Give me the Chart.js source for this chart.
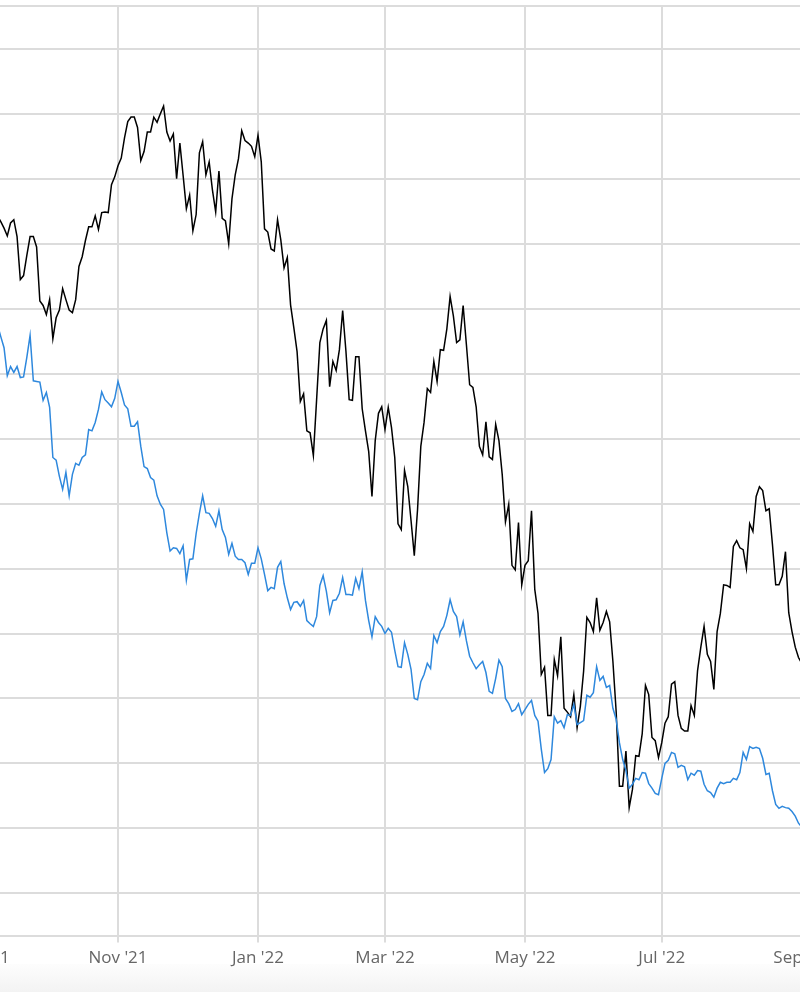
<!DOCTYPE html>
<html>
<head>
<meta charset="utf-8">
<script src="https://cdn.jsdelivr.net/npm/chart.js@4/dist/chart.umd.min.js"></script>
<style>
  html, body { margin: 0; padding: 0; background: #fff; overflow: hidden; }
  body { width: 800px; height: 992px; position: relative; }
  #shade { position: absolute; left: 0; top: 964px; width: 800px; height: 28px;
           background: linear-gradient(to bottom, #fdfdfd, #f3f3f3); }
  #wrap { position: absolute; left: -80px; top: 0; width: 960px; height: 973px; }
</style>
</head>
<body>
<div id="shade"></div>
<div id="wrap"><canvas id="priceChart"></canvas></div>
<script>
// x = trading-day index, 0 = first session of Nov 2021
const firstDay = -37;

// month ticks (first trading day of each month)
const monthIdx = [-42, 0, 43, 82, 125, 167, 210];
const monthLabels = ["Sep '21", "Nov '21", "Jan '22", "Mar '22", "May '22", "Jul '22", "Sep '22"];

// y gridlines
const yGrid = [20, 30, 40, 50, 60, 70, 80, 90, 100, 110, 120, 130, 140, 150];
const yMin = 13.5;
const yMax = 156.6;

const blackSeries = [
  124.3, 123.4, 122.4, 121.2, 123.2, 123.7, 121.1, 114.5, 115.1, 118.2,
  121.1, 121.1, 119.5, 111.2, 110.5, 109.1, 111.4, 105.4, 108.6, 109.8,
  113.1, 111.4, 109.8, 109.4, 111.4, 116.5, 118.0, 120.5, 122.6, 122.6,
  124.3, 122.2, 124.8, 124.9, 124.8, 129.1, 130.3, 132.0, 133.2, 136.3,
  138.8, 139.5, 139.5, 137.9, 132.8, 134.2, 137.2, 137.2, 139.5, 138.7,
  140.0, 141.2, 137.2, 135.8, 136.9, 130.0, 135.5, 130.5, 125.4, 127.5,
  122.0, 124.5, 134.0, 135.7, 130.6, 132.6, 128.3, 124.9, 131.2, 123.9,
  123.5, 120.0, 126.9, 130.6, 133.1, 137.4, 135.9, 135.5, 135.0, 133.4,
  136.7, 132.6, 122.3, 121.8, 119.2, 118.9, 123.7, 120.6, 116.3, 117.9,
  110.6, 107.1, 103.4, 95.7, 96.9, 91.2, 90.9, 87.4, 96.0, 104.8,
  106.9, 108.2, 98.0, 101.9, 100.5, 103.7, 109.7, 103.5, 96.0, 95.9,
  102.6, 102.6, 94.6, 91.2, 88.0, 81.1, 89.7, 93.9, 94.9, 91.4,
  94.8, 91.7, 87.1, 76.9, 76.0, 85.1, 82.6, 77.4, 72.0, 79.1,
  88.8, 92.5, 97.7, 97.1, 101.9, 98.8, 103.7, 103.6, 106.9, 111.9,
  108.9, 104.8, 105.2, 110.5, 104.5, 98.3, 97.9, 94.9, 88.8, 87.5,
  92.6, 87.2, 86.8, 92.2, 89.7, 84.5, 77.2, 79.9, 70.5, 69.8,
  77.1, 67.5, 70.5, 71.2, 78.9, 66.8, 63.1, 53.7, 54.8, 47.4,
  47.4, 56.0, 53.5, 59.5, 48.5, 47.9, 47.2, 50.6, 45.5, 48.8,
  54.2, 62.5, 61.7, 60.3, 65.5, 60.5, 61.7, 63.4, 61.8, 55.7,
  48.0, 36.5, 36.5, 41.9, 33.2, 36.0, 41.2, 41.1, 44.6, 52.0,
  50.6, 44.0, 43.5, 40.9, 43.2, 46.2, 47.2, 52.2, 52.6, 47.4,
  45.4, 45.0, 45.0, 48.9, 47.4, 54.3, 57.9, 61.1, 56.8, 55.7,
  51.4, 60.3, 63.1, 67.5, 67.4, 67.1, 73.4, 74.3, 73.2, 72.9,
  70.0, 76.9, 75.7, 81.1, 82.6, 82.0, 78.9, 79.2, 73.7, 67.5,
  67.5, 68.8, 72.6, 63.2, 60.3, 57.9, 56.3, 55.4
];

const blueSeries = [
  107.5, 105.7, 104.0, 99.7, 101.1, 100.2, 101.1, 99.4, 99.5, 102.5,
  105.9, 98.9, 98.8, 98.7, 95.9, 97.1, 94.8, 87.1, 86.7, 84.2,
  82.2, 84.8, 81.2, 84.5, 86.2, 85.9, 87.1, 87.5, 91.4, 91.2,
  92.5, 94.5, 97.2, 96.0, 95.5, 94.9, 96.2, 98.8, 97.1, 95.2,
  94.6, 91.9, 91.9, 92.6, 88.8, 85.7, 85.4, 84.0, 83.6, 81.2,
  79.9, 79.1, 75.5, 72.7, 73.2, 73.1, 72.3, 73.5, 68.2, 71.4,
  71.5, 75.4, 78.5, 81.2, 78.6, 78.5, 77.7, 76.5, 78.9, 76.0,
  74.8, 72.2, 73.9, 71.9, 71.4, 71.4, 70.9, 69.1, 70.8, 70.8,
  73.2, 71.5, 69.1, 66.6, 67.1, 66.9, 70.2, 71.1, 67.7, 65.5,
  63.7, 64.8, 64.9, 64.2, 65.1, 62.0, 61.5, 61.1, 62.6, 67.4,
  68.9, 66.5, 63.2, 65.1, 65.2, 66.2, 68.6, 66.0, 66.0, 65.9,
  68.5, 66.9, 69.5, 65.1, 62.0, 59.5, 62.6, 61.7, 61.1, 60.0,
  60.8, 60.2, 57.4, 54.9, 54.8, 58.6, 56.8, 54.5, 50.0, 49.8,
  52.6, 53.7, 55.4, 54.6, 59.7, 58.6, 60.3, 61.1, 62.8, 65.2,
  63.4, 62.6, 59.8, 61.8, 58.9, 56.5, 55.5, 54.6, 55.2, 55.7,
  54.0, 51.1, 50.8, 53.1, 55.9, 54.9, 50.0, 49.2, 48.0, 48.3,
  49.2, 47.5, 48.3, 49.1, 49.7, 47.4, 46.5, 42.2, 38.6, 39.2,
  40.6, 47.2, 46.2, 46.6, 45.5, 47.5, 47.4, 49.1, 46.0, 46.3,
  46.6, 50.5, 50.2, 50.9, 54.9, 52.8, 53.4, 51.7, 52.0, 48.5,
  46.8, 43.2, 40.6, 38.9, 36.2, 36.8, 37.7, 37.5, 38.6, 38.5,
  36.9, 36.2, 35.4, 35.2, 37.7, 40.0, 40.5, 41.7, 41.5, 39.4,
  39.7, 39.5, 37.5, 38.5, 38.2, 38.9, 38.8, 36.8, 35.8, 35.5,
  34.8, 36.2, 37.1, 36.9, 37.1, 37.1, 37.7, 37.5, 38.6, 41.7,
  40.6, 42.6, 42.3, 42.5, 42.3, 40.8, 38.3, 38.5, 35.8, 33.7,
  33.1, 33.4, 33.2, 33.1, 32.6, 31.9, 30.8, 30.2
];

const days = blackSeries.map((_, k) => firstDay + k);
const gridColor = '#dcdcdc';

Chart.defaults.font.family = "'Open Sans', sans-serif";
Chart.defaults.font.size = 17;
Chart.defaults.color = '#666';

const ctx = document.getElementById('priceChart').getContext('2d');
new Chart(ctx, {
    type: 'line',
    data: {
        labels: days,
        datasets: [{
            data: blueSeries,
            borderColor: '#2e88dd',
            borderWidth: 1.5,
            pointRadius: 0,
            tension: 0
        }, {
            data: blackSeries,
            borderColor: '#000',
            borderWidth: 1.5,
            pointRadius: 0,
            tension: 0
        }]
    },
    options: {
        responsive: true,
        maintainAspectRatio: false,
        animation: false,
        layout: { padding: { top: 6, left: 0, right: 0, bottom: 0 } },
        plugins: { legend: { display: false }, tooltip: { enabled: false } },
        scales: {
            x: {
                type: 'linear',
                min: -60.81,
                max: 234.03,
                afterBuildTicks: s => {
                    s.ticks = monthIdx.filter(v => v >= s.min && v <= s.max).map(v => ({ value: v }));
                },
                ticks: {
                    autoSkip: false,
                    maxRotation: 0,
                    padding: 5,
                    callback: v => monthLabels[monthIdx.indexOf(v)]
                },
                grid: { color: gridColor, lineWidth: 2, tickLength: 7 },
                border: { color: gridColor, width: 2 }
            },
            y: {
                min: yMin,
                max: yMax,
                afterBuildTicks: s => {
                    s.ticks = [yMin, ...yGrid, yMax].map(v => ({ value: v }));
                },
                ticks: { display: false },
                grid: { color: gridColor, lineWidth: 2, drawTicks: false },
                border: { display: false }
            }
        }
    }
});
</script>
</body>
</html>
